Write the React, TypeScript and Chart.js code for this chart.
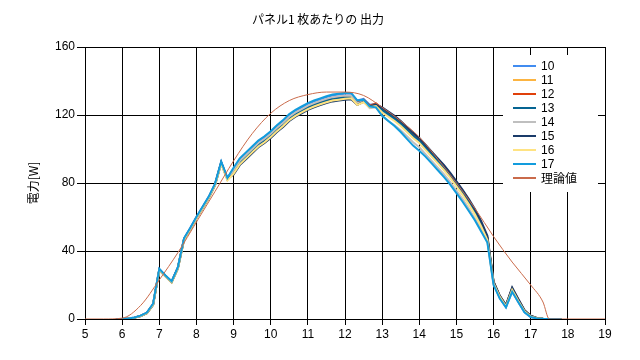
import React, { useEffect, useRef } from "react";
import { Chart, registerables } from "chart.js";

Chart.register(...registerables);

const chartTitle = "パネル1 枚あたりの 出力";
const yAxisTitle = "電力[W]";

const times = [
  "5:50", "6:00", "6:10", "6:20", "6:30", "6:40", "6:50",
  "7:00", "7:10", "7:20", "7:30", "7:40", "7:50",
  "8:00", "8:10", "8:20", "8:30", "8:40", "8:50",
  "9:00", "9:10", "9:20", "9:30", "9:40", "9:50",
  "10:00", "10:10", "10:20", "10:30", "10:40", "10:50",
  "11:00", "11:10", "11:20", "11:30", "11:40", "11:50",
  "12:00", "12:10", "12:20", "12:30", "12:40", "12:50",
  "13:00", "13:10", "13:20", "13:30", "13:40", "13:50",
  "14:00", "14:10", "14:20", "14:30", "14:40", "14:50",
  "15:00", "15:10", "15:20", "15:30", "15:40", "15:50",
  "16:00", "16:10", "16:20", "16:30", "16:40", "16:50",
  "17:00", "17:10", "17:20", "17:30", "17:40", "17:50",
];

const s10 = [
  0, 0, 0.3, 0.9, 2, 3.8, 9, 29.5, 25.5, 22, 30.5, 47.5, 53.5, 60, 66, 72, 79.5, 92.5, 83,
  88.5, 94, 97.5, 101, 104.5, 107, 110, 113.5, 116.5, 120, 122.5, 124.5, 126.5, 128, 129.3, 130.5, 131.5, 132, 132.5, 132.5,
  128.5, 129.5, 126, 126.5,
  122, 119.5, 117, 114, 110.5, 107, 104, 100, 96, 92, 88, 83.5, 78.5, 73.5, 68, 62, 55, 47,
  21, 12.5, 7, 16.5, 10, 4, 1.2, 0.4, 0.1, 0, 0, 0,
];
const s11 = [
  0, 0, 0.2, 0.7, 1.7, 3.3, 8.2, 28.5, 25, 21.5, 29.5, 46.5, 52.5, 59, 65, 71, 78.5, 91.5, 82,
  86, 91.5, 95, 98.5, 102, 104.5, 107.5, 111, 114, 117.5, 120, 122, 124, 125.5, 126.8, 128, 129, 129.5, 130, 130,
  126, 128, 124.5, 125.5,
  123.5, 121, 118.5, 115.5, 112, 108.5, 105.5, 101.5, 97.5, 93.5, 89.5, 85, 80, 75, 69.5, 63.5, 56, 47.5,
  21.5, 13.5, 8, 17.5, 11, 5, 1.8, 0.6, 0.2, 0, 0, 0,
];
const s12 = [
  0, 0, 0.3, 0.8, 1.8, 3.6, 8.6, 29, 25.5, 22, 30, 47, 53, 59.5, 65.5, 71.5, 79, 92, 82.5,
  87, 92.5, 96, 99.5, 103, 105.5, 108.5, 112, 115, 118.5, 121, 123, 125, 126.5, 127.8, 129, 130, 130.5, 131, 131.2,
  127.5, 129, 125.5, 126.8,
  124, 121.5, 119, 116, 112.5, 109, 106, 102, 98, 94, 90, 85.5, 80.5, 75.5, 70, 63.5, 56.5, 48,
  22, 13.5, 8, 18, 11.5, 5, 1.8, 0.5, 0.2, 0, 0, 0,
];
const s13 = [
  0, 0, 0.3, 0.8, 1.9, 3.5, 8.4, 28.8, 25.3, 21.8, 29.8, 46.8, 52.8, 59.3, 65.3, 71.3, 78.8, 91.8, 82.3,
  86.5, 92, 95.5, 99, 102.5, 105, 108, 111.5, 114.5, 118, 120.5, 122.5, 124.5, 126, 127.3, 128.5, 129.5, 130, 130.5, 130.5,
  126.8, 128.5, 125, 126.2,
  123, 120.5, 118, 115, 111.5, 108, 105, 101, 97, 93, 89, 84.5, 79.5, 74.5, 69, 63, 56, 47.8,
  21.5, 13.2, 7.8, 17.8, 11, 4.8, 1.6, 0.5, 0.2, 0, 0, 0,
];
const s14 = [
  0, 0, 0.3, 0.8, 1.8, 3.4, 8.3, 28.7, 25.2, 21.8, 29.8, 46.8, 52.8, 59.3, 65.3, 71.3, 78.8, 91.5, 82,
  87.5, 93, 96.5, 100, 103.5, 106, 109, 112.5, 115.5, 119, 121.5, 123.5, 125.5, 127, 128.3, 129.5, 130.5, 131, 131.5, 131.3,
  127, 128, 124, 124.5,
  119.5, 116.5, 114, 111, 107.5, 104, 101, 97, 93, 89, 85, 80.5, 75.5, 70.5, 65, 59, 52.5, 45.5,
  20.5, 12.5, 7, 16.3, 10, 4.2, 1.3, 0.4, 0.1, 0, 0, 0,
];
const s15 = [
  0, 0, 0.3, 0.8, 1.8, 3.5, 8.5, 29, 25.5, 22, 30, 47, 53, 59.5, 65.5, 71.5, 79, 92, 82.5,
  85, 90.5, 94, 97.5, 101, 103.5, 106.5, 110, 113, 116.5, 119, 121, 123, 124.5, 125.8, 127, 128, 128.5, 129, 129.2,
  126, 127.8, 124.8, 126,
  124.5, 122, 119.5, 116.5, 113, 109.5, 106.5, 102.5, 98.5, 94.5, 90.5, 86, 81, 76, 70.5, 64.5, 57.5, 49,
  22, 13.8, 8.2, 18.5, 11.8, 5.2, 1.9, 0.6, 0.2, 0, 0, 0,
];
const s16 = [
  0, 0, 0.3, 0.8, 1.8, 3.5, 8.5, 28.8, 25.3, 21.8, 29.8, 46.8, 52.8, 59.3, 65.3, 71.3, 78.8, 91.5, 81.5,
  85.5, 91, 94.5, 98, 101.5, 104, 107, 110.5, 113.5, 117, 119.5, 121.5, 123.5, 125, 126.3, 127.5, 128.5, 129, 129.5, 129.8,
  126, 127.5, 124.5, 125.3,
  121.5, 119, 116.5, 113.5, 110, 106.5, 103.5, 99.5, 95.5, 91.5, 87.5, 83, 78, 73, 67.5, 61.5, 54.5, 46.5,
  21, 13, 7.5, 17.2, 10.6, 4.6, 1.5, 0.5, 0.2, 0, 0, 0,
];
const s17 = [
  0, 0, 0.3, 0.9, 2, 3.8, 9, 29.5, 25.6, 22.2, 30.3, 47.5, 53.5, 60, 66, 72, 79.5, 92.5, 83,
  89, 94.5, 98, 101.5, 105, 107.5, 110.5, 114, 117, 120.5, 123, 125, 127, 128.5, 129.8, 131, 132, 132.5, 133, 133,
  128.5, 129, 125, 124.5,
  119.5, 116.5, 113.5, 110, 106, 102, 99, 95.5, 91.5, 87.5, 83.5, 79, 74, 69, 63.5, 58, 51.5, 45,
  20, 12, 6.8, 16, 9.8, 4, 1.2, 0.3, 0.1, 0, 0, 0,
];

const theoryTimes = [5, 5.5, 6, 6.5, 7, 7.5, 8, 8.5, 9, 9.5, 10, 10.5, 11, 11.5, 12, 12.5, 13, 13.5, 14, 14.5, 15, 15.5, 16, 16.5, 17, 17.33, 17.5, 18, 19];
const theoryValues = [0, 0, 0.5, 8, 23, 39, 57, 75, 93, 109, 121, 128.5, 132, 133.5, 133.5, 131.5, 124.5, 116.5, 107, 94, 80, 65, 48.5, 33.5, 20, 10, 0, 0, 0];

const seriesNames = ["10", "11", "12", "13", "14", "15", "16", "17"];
const seriesValues = [s10, s11, s12, s13, s14, s15, s16, s17];
const seriesColors = ["#418CF0", "#FCB441", "#E0400A", "#056492", "#BFBFBF", "#1A3B69", "#FFE382", "#129CDD"];
const theoryName = "理論値";
const theoryColor = "#CA6B4B";

const xTicksMin = 5;
const xTicksMax = 19;
const yTicksMin = 0;
const yTicksMax = 160;

function toHours(t: string): number {
  const [h, m] = t.split(":").map(Number);
  return h + m / 60;
}

const overlayPlugin = {
  id: "overlay",
  afterDraw(chart: any) {
    const ctx = chart.ctx as CanvasRenderingContext2D;
    ctx.save();
    ctx.fillStyle = "#000";
    ctx.font = '12px "Noto Sans CJK JP"';
    ctx.textAlign = "center";
    ctx.textBaseline = "middle";
    ctx.fillText(chartTitle, 318, 19);

    ctx.save();
    ctx.translate(33, 183);
    ctx.rotate(-Math.PI / 2);
    ctx.fillText(yAxisTitle, 0, 0);
    ctx.restore();

    // legend
    const bx = 503, by = 55, bw = 95, bh = 137;
    ctx.fillStyle = "#fff";
    ctx.fillRect(bx, by, bw, bh);
    const names = [...seriesNames, theoryName];
    const colors = [...seriesColors, theoryColor];
    ctx.textAlign = "left";
    for (let i = 0; i < names.length; i++) {
      const y = 66 + i * 14;
      ctx.strokeStyle = colors[i];
      ctx.lineWidth = 2;
      ctx.beginPath();
      ctx.moveTo(513, y);
      ctx.lineTo(536, y);
      ctx.stroke();
      ctx.fillStyle = "#000";
      ctx.font = i === names.length - 1 ? '12px "Noto Sans CJK JP"' : '12px "Liberation Sans"';
      ctx.fillText(names[i], 541, y + 0.5);
    }
    ctx.restore();
  },
};

export default function App() {
  const ref = useRef<HTMLCanvasElement | null>(null);
  useEffect(() => {
    if (!ref.current) return;
    const xs = times.map(toHours);
    const datasets: any[] = [
      {
        label: theoryName,
        data: theoryTimes.map((t, i) => ({ x: t, y: theoryValues[i] })),
        borderColor: theoryColor,
        borderWidth: 1,
        pointRadius: 0,
        fill: false,
        cubicInterpolationMode: "monotone",
        order: 0,
      },
    ];
    seriesNames.forEach((name, i) => {
      datasets.push({
        label: name,
        data: xs.map((x, j) => ({ x, y: seriesValues[i][j] })),
        borderColor: seriesColors[i],
        borderWidth: 2,
        pointRadius: 0,
        fill: false,
        tension: 0,
        order: seriesNames.length - i,
      });
    });
    const tickFont = { family: "Liberation Sans", size: 12 };
    const chart = new Chart(ref.current, {
      type: "line",
      data: { datasets },
      plugins: [overlayPlugin],
      options: {
        animation: false,
        responsive: false,
        maintainAspectRatio: false,
        layout: { padding: { left: 0, right: 35, top: 47, bottom: 0 } },
        plugins: {
          legend: { display: false },
          title: { display: false },
          tooltip: { enabled: false },
        },
        elements: { point: { radius: 0 } },
        scales: {
          x: {
            type: "linear",
            min: xTicksMin,
            max: xTicksMax,
            ticks: { stepSize: 1, color: "#000", font: tickFont, padding: 2, maxRotation: 0, autoSkip: false },
            grid: { color: "#000", lineWidth: 1, tickLength: 6 },
            border: { color: "#000", width: 1 },
            afterFit: (s: any) => {
              s.height = 41;
            },
          },
          y: {
            type: "linear",
            min: yTicksMin,
            max: yTicksMax,
            ticks: { stepSize: 40, color: "#000", font: tickFont, padding: 2 },
            grid: { color: "#000", lineWidth: 1, tickLength: 8 },
            border: { color: "#000", width: 1 },
            afterFit: (s: any) => {
              s.width = 85;
            },
          },
        },
      } as any,
    });
    return () => chart.destroy();
  }, []);
  return (
    <div style={{ position: "absolute", left: 0, top: 0, width: 640, height: 360, background: "#fff" }}>
      <canvas ref={ref} width={640} height={360} />
    </div>
  );
}
